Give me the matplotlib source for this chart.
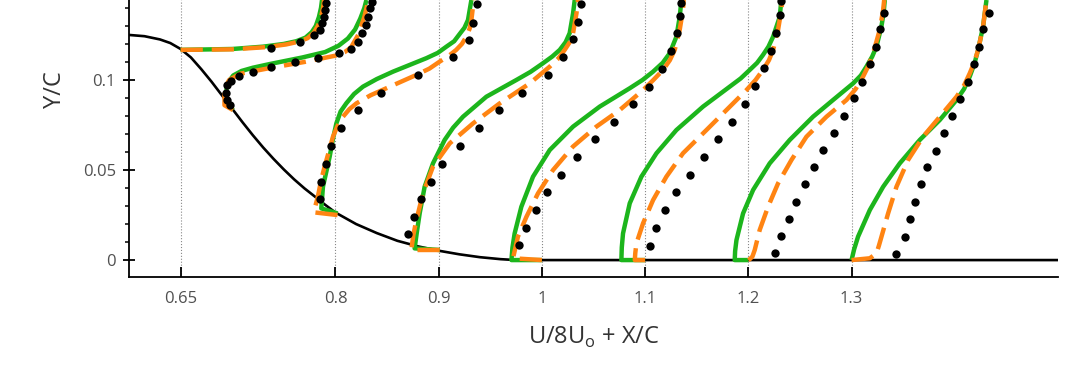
import matplotlib
matplotlib.use("Agg")
import matplotlib.pyplot as plt
from matplotlib.ticker import FixedLocator, MultipleLocator, FuncFormatter

plt.rcParams['font.family'] = ['Open Sans', 'DejaVu Sans']

# hill surface
hill_x = [0.60, 0.615, 0.63, 0.64, 0.65, 0.66, 0.67, 0.68, 0.69, 0.70, 0.71,
          0.72, 0.73, 0.74, 0.75, 0.76, 0.77, 0.78, 0.79, 0.80, 0.82, 0.84,
          0.86, 0.88, 0.90, 0.92, 0.94, 0.96, 0.975, 1.5]
hill_y = [0.125, 0.1243, 0.1225, 0.1205, 0.1172, 0.1125, 0.1060, 0.0990,
          0.0915, 0.0840, 0.0765, 0.0693, 0.0625, 0.0562, 0.0503, 0.0448,
          0.0398, 0.0353, 0.0307, 0.0264, 0.0200, 0.0150, 0.0107, 0.0076,
          0.0052, 0.0032, 0.0016, 0.0005, 0.0, 0.0]

stations = [0.65, 0.7, 0.8, 0.9, 1.0, 1.1, 1.2, 1.3]
xticks = [0.65, 0.8, 0.9, 1.0, 1.1, 1.2, 1.3]

# green solid (U/8Uo + X/C, Y/C) per station
green_x = {
    0.65: [0.650, 0.700, 0.730, 0.750, 0.762, 0.771, 0.777, 0.781, 0.784, 0.786, 0.787],
    0.7: [0.7007, 0.6965, 0.6945, 0.6945, 0.6965, 0.701, 0.709, 0.720, 0.736, 0.768, 0.790,
          0.803, 0.812, 0.819, 0.824, 0.828, 0.830],
    0.8: [0.8021, 0.7863, 0.787, 0.7879, 0.7944, 0.7975, 0.8009, 0.8050, 0.8106, 0.818, 0.8267,
          0.840, 0.8557, 0.8881, 0.899, 0.9075, 0.9150, 0.9203, 0.9250, 0.9284, 0.9317],
    0.9: [0.901, 0.8767, 0.8790, 0.8816, 0.8864, 0.8945, 0.9058, 0.9140, 0.9236, 0.9462, 0.9753,
          0.9890, 1.0011, 1.0100, 1.0173, 1.0230, 1.0269, 1.0302, 1.0318],
    1.0: [1.0, 0.9705, 0.9715, 0.9736, 0.9801, 0.9914, 1.0076, 1.0302, 1.056, 1.0851, 1.0975,
          1.1077, 1.1170, 1.1238, 1.1303, 1.1335, 1.1352],
    1.1: [1.1, 1.077, 1.0774, 1.0786, 1.0851, 1.0964, 1.111, 1.1303, 1.1561, 1.182, 1.1925,
          1.2014, 1.2085, 1.2142, 1.2195, 1.224, 1.2304, 1.232],
    1.2: [1.2, 1.1868, 1.1872, 1.1885, 1.1949, 1.2046, 1.2207, 1.2401, 1.2627, 1.2821, 1.3015,
          1.3090, 1.3144, 1.3200, 1.3241, 1.3289, 1.3310, 1.3322],
    1.3: [1.3, 1.3025, 1.3063, 1.3177, 1.3306, 1.3467, 1.3661, 1.3855, 1.4017, 1.4090, 1.4145,
          1.4190, 1.4226, 1.4274, 1.4307],
}
green_y = {
    0.65: [0.1167, 0.1172, 0.1185, 0.1200, 0.1215, 0.1235, 0.1265, 0.130, 0.135, 0.140, 0.1444],
    0.7: [0.0833, 0.0865, 0.091, 0.095, 0.099, 0.1025, 0.105, 0.1068, 0.1088, 0.1125, 0.1155,
          0.119, 0.123, 0.128, 0.134, 0.140, 0.1444],
    0.8: [0.0259, 0.0287, 0.034, 0.0407, 0.0574, 0.067, 0.0759, 0.0825, 0.0871, 0.0922, 0.0963,
          0.1005, 0.1046, 0.1121, 0.1150, 0.1185, 0.1215, 0.1255, 0.1290, 0.1333, 0.1444],
    0.9: [0.0056, 0.0065, 0.016, 0.0259, 0.0407, 0.0537, 0.0667, 0.0735, 0.0796, 0.0907, 0.1,
          0.1045, 0.1093, 0.1130, 0.1167, 0.1210, 0.126, 0.137, 0.1444],
    1.0: [0.0, 0.0, 0.007, 0.0148, 0.0296, 0.0463, 0.0611, 0.0741, 0.0852, 0.0954, 0.1,
          0.1046, 0.1095, 0.1148, 0.124, 0.135, 0.1444],
    1.1: [0.0, 0.0, 0.007, 0.0148, 0.0315, 0.0463, 0.0593, 0.0722, 0.0852, 0.0963, 0.1008,
          0.1056, 0.1095, 0.1139, 0.1185, 0.124, 0.135, 0.1444],
    1.2: [0.0, 0.0, 0.005, 0.0111, 0.0259, 0.0389, 0.0537, 0.0667, 0.0796, 0.0889, 0.0981,
          0.1025, 0.1074, 0.113, 0.1185, 0.1296, 0.137, 0.1444],
    1.3: [0.0, 0.006, 0.013, 0.0278, 0.0407, 0.0537, 0.0667, 0.0778, 0.0889, 0.095, 0.1019,
          0.109, 0.1167, 0.1296, 0.1444],
}

# orange dashed
orange_x = {
    0.65: [0.650, 0.700, 0.732, 0.752, 0.764, 0.773, 0.779, 0.783, 0.786, 0.788, 0.789],
    0.7: [0.7007, 0.6925, 0.6925, 0.697, 0.708, 0.74, 0.77, 0.80, 0.809, 0.815, 0.822, 0.828, 0.832],
    0.8: [0.802, 0.779, 0.7805, 0.783, 0.786, 0.7895, 0.7935, 0.7976, 0.802, 0.8073, 0.8135,
          0.8203, 0.834, 0.8493, 0.8784, 0.891, 0.901, 0.910, 0.917, 0.9225, 0.9268, 0.9300,
          0.9317, 0.934],
    0.9: [0.901, 0.8735, 0.8755, 0.8784, 0.8848, 0.8945, 0.9107, 0.9333, 0.9591, 0.9882, 1.0076,
          1.0160, 1.0221, 1.0270, 1.0302, 1.0335, 1.035],
    1.0: [1.0, 0.972, 0.9768, 0.985, 0.9962, 1.0108, 1.0301, 1.0528, 1.0754, 1.098, 1.1080,
          1.1174, 1.1240, 1.1287, 1.1335, 1.1367, 1.1374],
    1.1: [1.1, 1.09, 1.0905, 1.0916, 1.098, 1.1077, 1.1206, 1.1367, 1.1594, 1.1788, 1.1982,
          1.2070, 1.2142, 1.2200, 1.224, 1.2288, 1.232, 1.233],
    1.2: [1.2, 1.2014, 1.2040, 1.2062, 1.211, 1.2191, 1.2288, 1.2418, 1.2563, 1.2757, 1.2951,
          1.3040, 1.3112, 1.3165, 1.3209, 1.3273, 1.3306, 1.3316],
    1.3: [1.3, 1.3177, 1.3241, 1.3265, 1.329, 1.3354, 1.3435, 1.3548, 1.3693, 1.3855, 1.4017,
          1.4090, 1.4145, 1.4190, 1.4226, 1.4274, 1.4307],
}
orange_y = {
    0.65: [0.1167, 0.1170, 0.1182, 0.1197, 0.1212, 0.1232, 0.1262, 0.130, 0.135, 0.140, 0.1444],
    0.7: [0.0833, 0.086, 0.095, 0.1, 0.1035, 0.107, 0.11, 0.1135, 0.1155, 0.118, 0.125, 0.135, 0.1444],
    0.8: [0.025, 0.0265, 0.030, 0.0352, 0.044, 0.0519, 0.060, 0.0685, 0.0745, 0.0796, 0.0838,
          0.087, 0.0915, 0.0954, 0.1028, 0.1063, 0.1102, 0.1135, 0.1167, 0.120, 0.124, 0.1285,
          0.1333, 0.1444],
    0.9: [0.0056, 0.0056, 0.014, 0.0222, 0.037, 0.0519, 0.0648, 0.0759, 0.087, 0.0981, 0.1074,
          0.112, 0.1167, 0.121, 0.126, 0.137, 0.1444],
    1.0: [0.0, 0.001, 0.013, 0.024, 0.037, 0.05, 0.063, 0.0741, 0.0833, 0.0944, 0.1,
          0.1056, 0.111, 0.1167, 0.1278, 0.1389, 0.1444],
    1.1: [0.0, 0.0, 0.004, 0.0093, 0.0204, 0.0333, 0.0463, 0.0593, 0.0722, 0.0833, 0.0944,
          0.1, 0.1056, 0.111, 0.1167, 0.1278, 0.1389, 0.1444],
    1.2: [0.0, 0.0005, 0.002, 0.0056, 0.0167, 0.0296, 0.0426, 0.0556, 0.0685, 0.0796, 0.0889,
          0.095, 0.1019, 0.108, 0.1148, 0.1278, 0.1389, 0.1444],
    1.3: [0.0, 0.001, 0.0037, 0.008, 0.013, 0.0259, 0.0407, 0.0556, 0.0685, 0.0796, 0.0907,
          0.097, 0.1037, 0.110, 0.1167, 0.1296, 0.1444],
}

# measured points
exp_x = {
    0.65: [0.738, 0.766, 0.779, 0.785, 0.787, 0.789, 0.790, 0.791],
    0.7: [0.6975, 0.695, 0.694, 0.695, 0.6985, 0.707, 0.720, 0.738, 0.7605, 0.783, 0.8034,
          0.8154, 0.8218, 0.826, 0.8293, 0.8315, 0.833, 0.835],
    0.8: [0.7847, 0.7863, 0.7912, 0.796, 0.8057, 0.8218, 0.8445, 0.88, 0.9139, 0.9294, 0.9333, 0.9375],
    0.9: [0.8703, 0.8761, 0.8832, 0.8929, 0.9036, 0.9203, 0.9388, 0.9581, 0.9811, 1.0059,
          1.0205, 1.0302, 1.035, 1.0376],
    1.0: [0.9775, 0.985, 0.9947, 1.0053, 1.0182, 1.034, 1.0512, 1.0699, 1.0883, 1.1038,
          1.1164, 1.1255, 1.1313, 1.1335, 1.1352],
    1.1: [1.1045, 1.111, 1.1197, 1.1297, 1.1432, 1.1571, 1.171, 1.1842, 1.1965, 1.2069,
          1.2152, 1.222, 1.2266, 1.2304, 1.232],
    1.2: [1.2262, 1.2321, 1.2391, 1.2466, 1.2547, 1.2634, 1.2724, 1.2828, 1.2924, 1.3021,
          1.3106, 1.3177, 1.3234, 1.328, 1.3312],
    1.3: [1.3435, 1.3516, 1.3564, 1.3616, 1.3677, 1.3735, 1.3816, 1.3893, 1.3974, 1.4055,
          1.4129, 1.4184, 1.4236, 1.4274, 1.4329],
}
exp_y = {
    0.65: [0.1179, 0.1213, 0.125, 0.128, 0.1315, 0.135, 0.1389, 0.1426],
    0.7: [0.086, 0.089, 0.093, 0.097, 0.0995, 0.102, 0.1046, 0.107, 0.1098, 0.1124, 0.1148,
          0.1172, 0.1213, 0.126, 0.1306, 0.135, 0.1398, 0.1435],
    0.8: [0.0337, 0.0435, 0.0533, 0.0635, 0.0735, 0.0833, 0.0926, 0.1028, 0.1126, 0.1222, 0.1318, 0.1422],
    0.9: [0.0143, 0.0237, 0.0337, 0.0435, 0.0533, 0.0635, 0.0733, 0.0833, 0.093, 0.1026,
          0.1126, 0.1226, 0.1324, 0.1422],
    1.0: [0.0083, 0.0176, 0.0278, 0.0376, 0.0472, 0.0574, 0.067, 0.0765, 0.0865, 0.0963,
          0.1061, 0.1161, 0.126, 0.1356, 0.1426],
    1.1: [0.0079, 0.0176, 0.0278, 0.0376, 0.0472, 0.0574, 0.067, 0.0769, 0.0867, 0.0967,
          0.1065, 0.1161, 0.126, 0.1361, 0.144],
    1.2: [0.0037, 0.0133, 0.0228, 0.0324, 0.042, 0.0519, 0.0611, 0.0707, 0.08, 0.0898,
          0.0991, 0.1087, 0.1185, 0.1281, 0.1374],
    1.3: [0.0033, 0.013, 0.0226, 0.0324, 0.042, 0.0515, 0.0607, 0.0704, 0.08, 0.0894,
          0.0991, 0.1087, 0.1185, 0.1281, 0.1374],
}

GREEN = '#1cb51c'
ORANGE = '#ff8412'
GREY = '#505050'

fig = plt.figure(figsize=(10.8, 3.65), dpi=100)
ax = fig.add_axes([129 / 1080, 88 / 365, 929 / 1080, 277 / 365])

ax.plot(hill_x, hill_y, color='black', lw=1.9, zorder=2, solid_capstyle='butt')

for s in stations:
    ax.plot(green_x[s], green_y[s], color=GREEN, lw=3.2, zorder=3,
            solid_joinstyle='round', solid_capstyle='butt')
    ax.plot(orange_x[s], orange_y[s], color=ORANGE, lw=3.2, zorder=4,
            dashes=(5, 2), dash_joinstyle='round', dash_capstyle='butt')
    ax.plot(exp_x[s], exp_y[s], 'o', color='black', ms=6, mew=0, zorder=5)

ax.set_xlim(0.6, 1.5)
ax.set_ylim(-0.0094, 0.1444)

ax.spines['top'].set_visible(False)
ax.spines['right'].set_visible(False)
for sp in ['left', 'bottom']:
    ax.spines[sp].set_linewidth(1.3)

ax.xaxis.set_major_locator(FixedLocator(xticks))
ax.xaxis.set_major_formatter(FuncFormatter(lambda v, p: '%g' % v))
ax.yaxis.set_major_locator(FixedLocator([0, 0.05, 0.1]))
ax.yaxis.set_major_formatter(FuncFormatter(lambda v, p: '%g' % v))
ax.yaxis.set_minor_locator(MultipleLocator(0.01))

ax.tick_params(axis='x', direction='in', length=7, width=1.3, pad=10,
               labelsize=12, labelcolor=GREY)
ax.tick_params(axis='y', which='major', direction='inout', length=9, width=1.3,
               pad=5, labelsize=12, labelcolor=GREY)
ax.tick_params(axis='y', which='minor', direction='out', length=3, width=1.1)

ax.grid(axis='x', which='major', linestyle=':', color='#888888', lw=0.8)
ax.set_axisbelow(True)

ax.set_xlabel(r'U/8U$_\mathregular{o}$ + X/C', fontsize=17, color='#333333', labelpad=13)
ax.set_ylabel('Y/C', fontsize=17, color='#333333')
ax.yaxis.set_label_coords(-0.067, 0.675)

fig.savefig('out.png', dpi=100)
